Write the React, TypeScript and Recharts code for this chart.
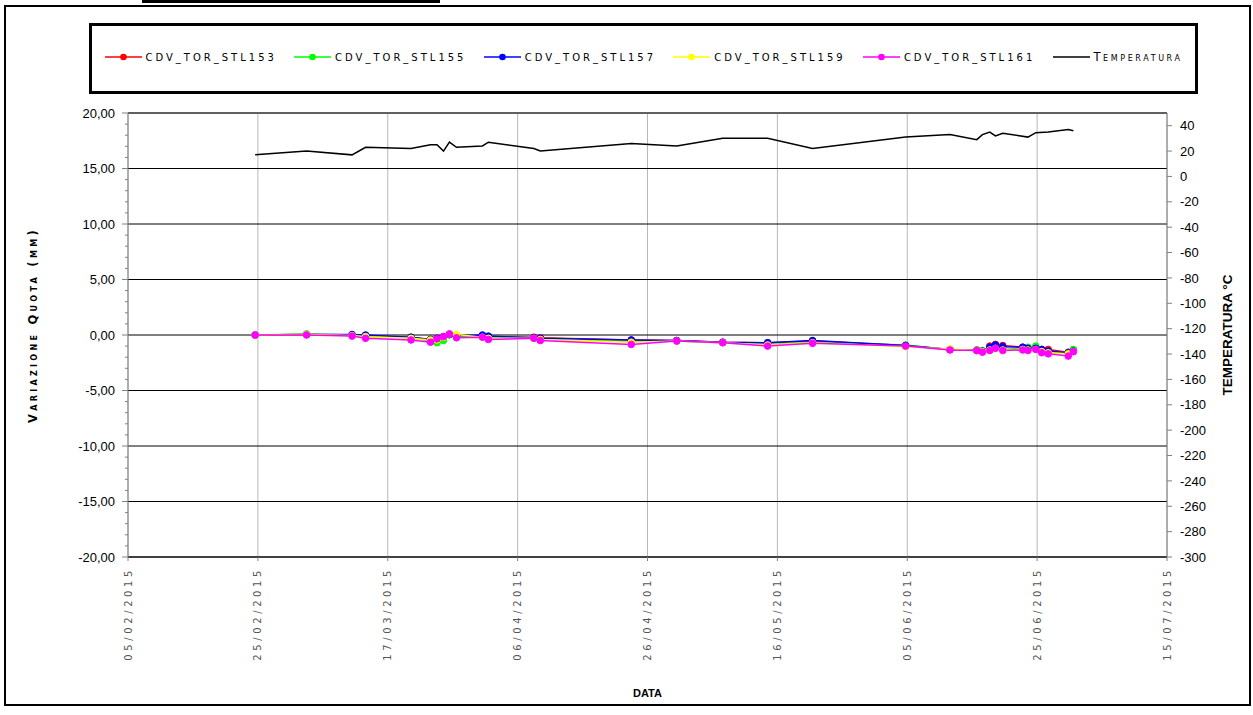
import React from "react";
import {
  ComposedChart,
  Line,
  XAxis,
  YAxis,
  CartesianGrid,
  ReferenceLine,
  Legend,
  Label,
} from "recharts";

// letture (data e ora)
const dates = [
  "24/02/2015 14:00", "04/03/2015 12:00", "11/03/2015 12:00", "13/03/2015 14:00",
  "20/03/2015 14:00", "23/03/2015 14:00", "24/03/2015 14:00", "25/03/2015 14:00",
  "26/03/2015 12:00", "27/03/2015 14:00", "31/03/2015 14:00", "01/04/2015 12:00",
  "08/04/2015 12:00", "09/04/2015 12:00", "23/04/2015 12:00", "30/04/2015 12:00",
  "07/05/2015 14:00", "14/05/2015 12:00", "21/05/2015 10:00", "04/06/2015 18:00",
  "11/06/2015 14:00", "15/06/2015 17:00", "16/06/2015 14:00", "17/06/2015 17:00",
  "18/06/2015 14:00", "19/06/2015 17:00", "22/06/2015 19:00", "23/06/2015 14:00",
  "24/06/2015 19:00", "25/06/2015 17:00", "26/06/2015 17:00", "29/06/2015 19:00",
  "30/06/2015 14:00",
];

// variazione quota (mm)
const stl153 = [0, 0.05, 0, -0.1, -0.2, -0.4, -0.3, -0.2, 0.05, -0.1, -0.1, -0.2, -0.2, -0.25, -0.45, -0.5, -0.65, -0.7, -0.55, -0.95, -1.3, -1.35, -1.45, -1.0, -0.85, -0.95, -1.1, -1.2, -1.15, -1.3, -1.3, -1.55, -1.4];
const stl155 = [0, 0.1, 0, -0.1, -0.25, -0.55, -0.7, -0.5, 0, -0.1, -0.15, -0.2, -0.3, -0.35, -0.6, -0.55, -0.7, -0.85, -0.65, -0.9, -1.3, -1.35, -1.4, -1.35, -1.2, -1.3, -1.2, -1.1, -1.0, -1.4, -1.5, -1.6, -1.3];
const stl157 = [0, 0.05, 0.05, 0, -0.2, -0.4, -0.3, -0.15, 0.05, -0.05, 0, -0.1, -0.25, -0.3, -0.45, -0.5, -0.65, -0.7, -0.5, -0.95, -1.3, -1.4, -1.45, -1.1, -0.9, -1.05, -1.1, -1.2, -1.2, -1.3, -1.45, -1.6, -1.45];
const stl159 = [0, 0.05, -0.05, -0.15, -0.3, -0.45, -0.45, -0.2, 0.1, 0.05, -0.2, -0.3, -0.3, -0.4, -0.65, -0.55, -0.7, -0.9, -0.7, -1.05, -1.25, -1.4, -1.5, -1.35, -1.2, -1.35, -1.3, -1.35, -1.3, -1.5, -1.6, -1.7, -1.5];
const stl161 = [0, 0, -0.1, -0.3, -0.45, -0.65, -0.35, -0.15, 0.1, -0.25, -0.2, -0.4, -0.3, -0.5, -0.85, -0.55, -0.7, -1.0, -0.75, -1.0, -1.35, -1.4, -1.55, -1.4, -1.2, -1.4, -1.35, -1.4, -1.3, -1.6, -1.7, -1.9, -1.5];

// temperatura (°C), null = non rilevata
const temperatura = [17, 20, 17, 23, 22, 25, 25, 20, 27, 23, 24, 27, 22, 20, 26, 24, 30, 30, 22, 31, 33, 29, 33, 35, 32, 34, null, 31, 34.5, null, 35, 37, 36];

const seriesNames = ["CDV_TOR_STL153", "CDV_TOR_STL155", "CDV_TOR_STL157", "CDV_TOR_STL159", "CDV_TOR_STL161", "Temperatura"];
const seriesColors = ["#ff0000", "#00ff00", "#0000ff", "#ffff00", "#ff00ff", "#000000"];

const dateTicks = ["05/02/2015", "25/02/2015", "17/03/2015", "06/04/2015", "26/04/2015", "16/05/2015", "05/06/2015", "25/06/2015", "15/07/2015"];
const quotaMajor = [-20, -15, -10, -5, 0, 5, 10, 15, 20];
const tempTicks = [-300, -280, -260, -240, -220, -200, -180, -160, -140, -120, -100, -80, -60, -40, -20, 0, 20, 40];

const DAY = 86400000;
const toDays = (s: string) => {
  const [d, h] = s.split(" ");
  const [dd, mm, yy] = d.split("/").map(Number);
  const [hh, mi] = (h || "00:00").split(":").map(Number);
  return Date.UTC(yy, mm - 1, dd, hh, mi) / DAY;
};
const fmtDate = (v: number) => {
  const d = new Date(Math.round(v) * DAY);
  const p = (n: number) => String(n).padStart(2, "0");
  return `${p(d.getUTCDate())}/${p(d.getUTCMonth() + 1)}/${d.getUTCFullYear()}`;
};
const fmtQuota = (v: number) => v.toFixed(2).replace(".", ",");

const data = dates.map((s, i) => ({
  t: toDays(s),
  s153: stl153[i],
  s155: stl155[i],
  s157: stl157[i],
  s159: stl159[i],
  s161: stl161[i],
  temp: temperatura[i],
}));

const xTicks = dateTicks.map((s) => toDays(s));
const quotaTicks = Array.from({ length: 41 }, (_, i) => i - 20);
const seriesKeys = ["s153", "s155", "s157", "s159", "s161"];

const wideFont = "'DejaVu Sans', sans-serif";
const arial = "'Liberation Sans', Arial, sans-serif";

const DateTick = ({ x, y, payload }: any) => (
  <text
    x={x}
    y={y}
    transform={`rotate(-90, ${x}, ${y})`}
    textAnchor="end"
    dy="0.35em"
    fill="#555"
    fontSize={10}
    fontFamily={wideFont}
    letterSpacing={3.6}
  >
    {fmtDate(payload.value)}
  </text>
);

// tacche secondarie ogni 1 mm, etichette ogni 5
const QuotaTick = ({ x, y, payload }: any) => {
  const major = payload.value % 5 === 0;
  return (
    <g>
      <line x1={x - (major ? 6 : 3)} x2={x} y1={y} y2={y} stroke="#808080" />
      {major && (
        <text x={x - 13} y={y} dy="0.35em" textAnchor="end" fontSize={13} fontFamily={arial} fill="#000">
          {fmtQuota(payload.value)}
        </text>
      )}
    </g>
  );
};

// titolo asse sinistro, un po' sopra il centro come nell'originale
const QuotaLabel = ({ viewBox }: any) => {
  const x = viewBox.x + 5;
  const y = viewBox.y + viewBox.height / 2 - 10;
  return (
    <text
      x={x}
      y={y}
      transform={`rotate(-90, ${x}, ${y})`}
      textAnchor="middle"
      dy="0.35em"
      fontFamily={wideFont}
      fontWeight="bold"
      fontSize={11.5}
      letterSpacing={3.3}
      style={{ fontVariant: "small-caps" }}
      fill="#000"
    >
      Variazione Quota (mm)
    </text>
  );
};

const renderLegend = (props: any) => {
  const items = [...(props.payload || [])].sort(
    (a: any, b: any) => seriesNames.indexOf(a.value) - seriesNames.indexOf(b.value)
  );
  return (
    <div style={{ position: "relative", width: 1109, height: 71, border: "3px solid #000", boxSizing: "border-box" }}>
      {items.map((it: any, i: number) => {
        const isTemp = it.value === "Temperatura";
        return (
          <div
            key={it.value}
            style={{ position: "absolute", left: 12.5 + i * 189.6, top: 25, height: 12, display: "flex", alignItems: "center" }}
          >
            <svg width={37} height={12}>
              <line x1={0} x2={37} y1={6} y2={6} stroke={it.color} strokeWidth={1.5} />
              {!isTemp && <circle cx={18.5} cy={6} r={3.3} fill={it.color} />}
            </svg>
            <span
              style={{
                marginLeft: 4,
                fontFamily: wideFont,
                fontSize: isTemp ? 11.5 : 10,
                letterSpacing: isTemp ? 2.6 : 3,
                color: "#000",
                fontVariant: isTemp ? "small-caps" : "normal",
                whiteSpace: "nowrap",
              }}
            >
              {it.value}
            </span>
          </div>
        );
      })}
    </div>
  );
};

export default function App() {
  return (
    <div style={{ position: "absolute", left: 0, top: 0, width: 1253, height: 715, background: "#fff", fontFamily: arial }}>
      <div style={{ position: "absolute", left: 142, top: 0, width: 298, height: 3, background: "#000" }} />
      <ComposedChart width={1253} height={715} data={data} margin={{ top: 113, right: 21, left: 28, bottom: 13 }}>
        <CartesianGrid horizontal={false} stroke="#b8b8b8" yAxisId="q" />
        <XAxis
          dataKey="t"
          type="number"
          domain={[xTicks[0], xTicks[xTicks.length - 1]]}
          ticks={xTicks}
          interval={0}
          tick={<DateTick />}
          tickSize={4}
          tickMargin={6}
          tickLine={{ stroke: "#808080" }}
          axisLine={{ stroke: "#404040", strokeWidth: 2 }}
          height={145}
          label={{ value: "DATA", position: "insideBottom", offset: 5, fontSize: 11, fontWeight: "bold", fill: "#000", fontFamily: arial }}
        />
        <YAxis
          yAxisId="q"
          domain={[-20, 20]}
          ticks={quotaTicks}
          interval={0}
          tick={<QuotaTick />}
          tickLine={false}
          tickSize={0}
          tickMargin={0}
          axisLine={{ stroke: "#808080" }}
          width={100}
        >
          <Label content={<QuotaLabel />} />
        </YAxis>
        <YAxis
          yAxisId="t"
          orientation="right"
          domain={[-300, 50]}
          ticks={tempTicks}
          interval={0}
          tickSize={5}
          tickMargin={8}
          tick={{ fontSize: 13, fill: "#000", fontFamily: arial }}
          tickLine={{ stroke: "#808080" }}
          axisLine={{ stroke: "#808080" }}
          width={65}
          label={{
            value: "TEMPERATURA °C",
            angle: -90,
            position: "insideRight",
            offset: 5,
            style: { textAnchor: "middle", fontFamily: arial, fontWeight: "bold", fontSize: 13.5, fill: "#000" },
          }}
        />
        {quotaMajor.slice(1, -1).map((v) => (
          <ReferenceLine key={v} yAxisId="q" y={v} stroke="#000" strokeWidth={1} />
        ))}
        <ReferenceLine yAxisId="q" y={20} stroke="#606060" strokeWidth={2} />
        <Legend
          verticalAlign="middle"
          align="center"
          layout="horizontal"
          wrapperStyle={{ left: 89, top: 23, width: 1109, height: 71 }}
          content={renderLegend}
        />
        <Line
          yAxisId="t"
          name={seriesNames[5]}
          dataKey="temp"
          type="linear"
          stroke="#000"
          strokeWidth={1.5}
          dot={false}
          connectNulls
          isAnimationActive={false}
        />
        {seriesKeys.map((k, i) => (
          <Line
            key={k}
            yAxisId="q"
            name={seriesNames[i]}
            dataKey={k}
            type="linear"
            stroke={seriesColors[i]}
            strokeWidth={1.5}
            dot={{ r: 3.3, fill: seriesColors[i], stroke: seriesColors[i], strokeWidth: 1 }}
            isAnimationActive={false}
          />
        ))}
      </ComposedChart>
      <div
        style={{
          position: "absolute",
          left: 4,
          top: 5,
          width: 1247,
          height: 701,
          border: "2px solid #000",
          boxSizing: "border-box",
          pointerEvents: "none",
        }}
      />
    </div>
  );
}
